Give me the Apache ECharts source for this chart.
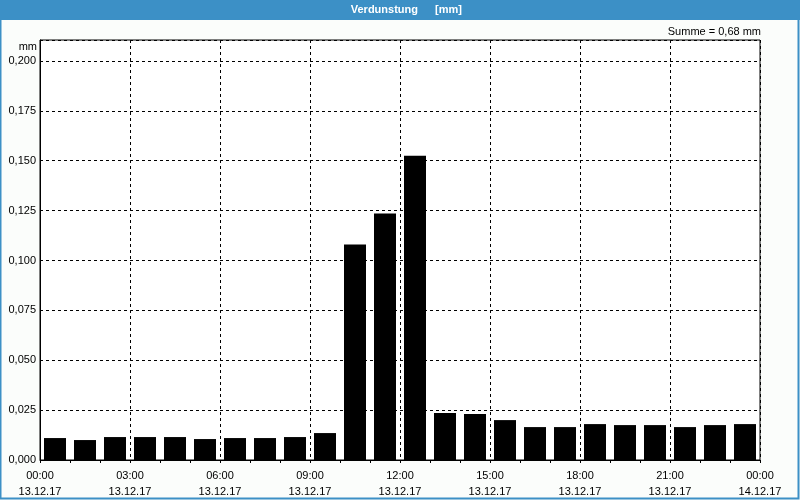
<!DOCTYPE html>
<html>
<head>
<meta charset="utf-8">
<script src="https://cdn.jsdelivr.net/npm/echarts@6/dist/echarts.min.js"></script>
<style>
html,body{margin:0;padding:0;background:#fbfdfb;}
#c{width:800px;height:500px;}
</style>
</head>
<body>
<div id="c"></div>
<script>
var hours = ['00','01','02','03','04','05','06','07','08','09','10','11','12','13','14','15','16','17','18','19','20','21','22','23'];
var values = [0.011,0.010,0.0115,0.0115,0.0115,0.0105,0.011,0.011,0.0115,0.0135,0.108,0.1235,0.1525,0.0235,0.023,0.020,0.0165,0.0165,0.018,0.0175,0.0175,0.0165,0.0175,0.018];
var timeLabels = ['00:00','03:00','06:00','09:00','12:00','15:00','18:00','21:00','00:00'];
var dateLabels = ['13.12.17','13.12.17','13.12.17','13.12.17','13.12.17','13.12.17','13.12.17','13.12.17','14.12.17'];
var titleText = 'Verdunstung';
var unitText = '[mm]';
var sumText = 'Summe = 0,68 mm';

var FONT = 'Liberation Sans';
var chart = echarts.init(document.getElementById('c'), null, {renderer:'canvas'});
chart.setOption({
  backgroundColor:'#fbfdfb',
  animation:false,
  grid:{left:40,right:40,top:40,bottom:39,show:true,borderColor:'#000',borderWidth:1,backgroundColor:'#ffffff'},
  xAxis:[
    {type:'category',data:hours,boundaryGap:true,position:'bottom',
     axisLine:{show:true,lineStyle:{color:'#000',width:1}},
     axisTick:{show:true,length:3,lineStyle:{color:'#000'}},
     axisLabel:{show:false},splitLine:{show:false}},
    {type:'value',min:0,max:24,interval:3,position:'bottom',
     axisLine:{show:false},axisTick:{show:false},
     splitLine:{show:true,lineStyle:{color:'#000',type:[3,3],width:1}},
     axisLabel:{margin:8,color:'#000',fontFamily:FONT,fontSize:11,lineHeight:16,
       formatter:function(v){var i=Math.round(v/3);return timeLabels[i]+'\n'+dateLabels[i];}}}
  ],
  yAxis:{type:'value',min:0,max:0.2105,interval:0.025,
    axisLine:{show:true,lineStyle:{color:'#000'}},axisTick:{show:false},
    splitLine:{show:true,lineStyle:{color:'#000',type:[3,3],width:1}},
    axisLabel:{margin:4,color:'#000',fontFamily:FONT,fontSize:11,showMaxLabel:false,
      formatter:function(v){var r=Math.round(v/0.025);if(Math.abs(r*0.025-v)>1e-6)return '';return (r*0.025).toFixed(3).replace('.',',');}}},
  series:[{type:'bar',xAxisIndex:0,data:values,barWidth:22,itemStyle:{color:'#000'},z:3}],
  graphic:[
    {type:'rect',shape:{x:0,y:0,width:800,height:20},style:{fill:'#3c90c6'},silent:true},
    {type:'rect',shape:{x:0.5,y:0.5,width:798,height:498},style:{fill:'none',stroke:'#3c90c6',lineWidth:2},silent:true},
    {type:'text',x:418,y:10,style:{text:titleText,fill:'#fff',font:'bold 11px '+FONT,textAlign:'right',textVerticalAlign:'middle'}},
    {type:'text',x:435,y:10,style:{text:unitText,fill:'#fff',font:'bold 11px '+FONT,textAlign:'left',textVerticalAlign:'middle'}},
    {type:'text',x:761,y:32,style:{text:sumText,fill:'#000',font:'11px '+FONT,textAlign:'right',textVerticalAlign:'middle'}},
    {type:'text',x:37,y:47,style:{text:'mm',fill:'#000',font:'11px '+FONT,textAlign:'right',textVerticalAlign:'middle'}}
  ]
});
</script>
</body>
</html>
